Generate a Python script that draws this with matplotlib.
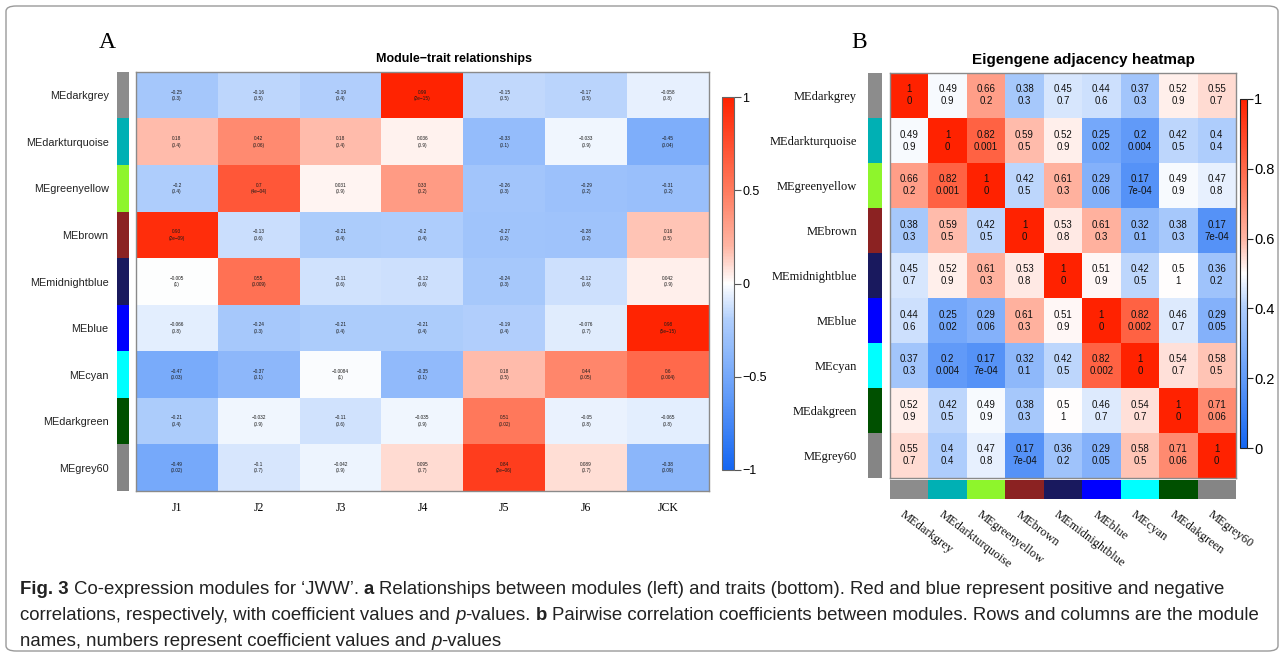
import numpy as np
import matplotlib
matplotlib.use('Agg')
import matplotlib.pyplot as plt
from matplotlib.colors import LinearSegmentedColormap, ListedColormap, Normalize
from matplotlib.cm import ScalarMappable
from matplotlib.patches import FancyBboxPatch

# ---------------- data ----------------
modules_A = ['MEdarkgrey', 'MEdarkturquoise', 'MEgreenyellow', 'MEbrown', 'MEmidnightblue',
             'MEblue', 'MEcyan', 'MEdarkgreen', 'MEgrey60']
module_colors = ['#8C8C8C', '#00B0B4', '#8EF52C', '#8B2222', '#19195E',
                 '#0000FF', '#00FFFF', '#005000', '#858585']
traits = ['J1', 'J2', 'J3', 'J4', 'J5', 'J6', 'JCK']

cor_A = np.array([
    [-0.25, -0.16, -0.19, 0.99, -0.15, -0.17, -0.058],
    [0.18, 0.42, 0.18, 0.036, -0.33, -0.033, -0.45],
    [-0.2, 0.7, 0.031, 0.33, -0.26, -0.29, -0.31],
    [0.93, -0.13, -0.21, -0.2, -0.27, -0.28, 0.16],
    [-0.005, 0.55, -0.11, -0.12, -0.24, -0.12, 0.042],
    [-0.066, -0.24, -0.21, -0.21, -0.19, -0.076, 0.98],
    [-0.47, -0.37, -0.0084, -0.35, 0.18, 0.44, 0.6],
    [-0.21, -0.032, -0.11, -0.035, 0.51, -0.05, -0.065],
    [-0.49, -0.1, -0.042, 0.095, 0.84, 0.089, -0.38],
])
p_A = np.array([
    [0.3, 0.5, 0.4, 2e-15, 0.5, 0.5, 0.8],
    [0.4, 0.06, 0.4, 0.9, 0.1, 0.9, 0.04],
    [0.4, 4e-04, 0.9, 0.2, 0.3, 0.2, 0.2],
    [2e-09, 0.6, 0.4, 0.4, 0.2, 0.2, 0.5],
    [1, 0.009, 0.6, 0.6, 0.3, 0.6, 0.9],
    [0.8, 0.3, 0.4, 0.4, 0.4, 0.7, 5e-15],
    [0.03, 0.1, 1, 0.1, 0.5, 0.05, 0.004],
    [0.4, 0.9, 0.6, 0.9, 0.02, 0.8, 0.8],
    [0.02, 0.7, 0.9, 0.7, 2e-06, 0.7, 0.09],
])

modules_B = ['MEdarkgrey', 'MEdarkturquoise', 'MEgreenyellow', 'MEbrown', 'MEmidnightblue',
             'MEblue', 'MEcyan', 'MEdakgreen', 'MEgrey60']
adj_B = np.array([
    [1, 0.49, 0.66, 0.38, 0.45, 0.44, 0.37, 0.52, 0.55],
    [0.49, 1, 0.82, 0.59, 0.52, 0.25, 0.2, 0.42, 0.4],
    [0.66, 0.82, 1, 0.42, 0.61, 0.29, 0.17, 0.49, 0.47],
    [0.38, 0.59, 0.42, 1, 0.53, 0.61, 0.32, 0.38, 0.17],
    [0.45, 0.52, 0.61, 0.53, 1, 0.51, 0.42, 0.5, 0.36],
    [0.44, 0.25, 0.29, 0.61, 0.51, 1, 0.82, 0.46, 0.29],
    [0.37, 0.2, 0.17, 0.32, 0.42, 0.82, 1, 0.54, 0.58],
    [0.52, 0.42, 0.49, 0.38, 0.5, 0.46, 0.54, 1, 0.71],
    [0.55, 0.4, 0.47, 0.17, 0.36, 0.29, 0.58, 0.71, 1],
])
p_B = np.array([
    [0, 0.9, 0.2, 0.3, 0.7, 0.6, 0.3, 0.9, 0.7],
    [0.9, 0, 0.001, 0.5, 0.9, 0.02, 0.004, 0.5, 0.4],
    [0.2, 0.001, 0, 0.5, 0.3, 0.06, 7e-04, 0.9, 0.8],
    [0.3, 0.5, 0.5, 0, 0.8, 0.3, 0.1, 0.3, 7e-04],
    [0.7, 0.9, 0.3, 0.8, 0, 0.9, 0.5, 1, 0.2],
    [0.6, 0.02, 0.06, 0.3, 0.9, 0, 0.002, 0.7, 0.05],
    [0.3, 0.004, 7e-04, 0.1, 0.5, 0.002, 0, 0.7, 0.5],
    [0.9, 0.5, 0.9, 0.3, 1, 0.7, 0.7, 0, 0.06],
    [0.7, 0.4, 0.8, 7e-04, 0.2, 0.05, 0.5, 0.06, 0],
])

# ---------------- helpers ----------------
W, H = 1284, 657
fig = plt.figure(figsize=(W / 100, H / 100), dpi=100)
fig.patch.set_facecolor('white')


def box(x0, y0, x1, y1):
    return [x0 / W, 1 - y1 / H, (x1 - x0) / W, (y1 - y0) / H]


def fx(x):
    return x / W


def fy(y):
    return 1 - y / H


def fmt_num(v):
    if v == 0:
        return '0'
    fixed = np.format_float_positional(v, trim='-')
    sci = np.format_float_scientific(v, trim='-', exp_digits=2)
    return fixed if len(fixed) <= len(sci) else sci


cmap = LinearSegmentedColormap.from_list('bwr_wgcna', [
    (0.0, '#1466F2'), (0.25, '#75A8FA'), (0.40, '#AECDFC'), (0.5, '#FFFFFF'),
    (0.60, '#FFB6A4'), (0.75, '#FF7B5E'), (1.0, '#FF2200')])

SANS = 'Liberation Sans'
SERIF = 'Liberation Serif'

# ---------------- outer frame ----------------
frame = FancyBboxPatch((fx(6), fy(651)), fx(1272), (645) / H,
                       boxstyle='round,pad=0,rounding_size=0.008',
                       transform=fig.transFigure, fill=False,
                       edgecolor='#9A9A9A', linewidth=1.0)
fig.patches.append(frame)

# ---------------- Panel A ----------------
fig.text(fx(107), fy(43), 'A', fontsize=17, family=SERIF, ha='center', va='center')
fig.text(fx(454), fy(59), 'Module\u2212trait relationships', fontsize=9,
         fontweight='bold', family=SANS, ha='center', va='center')

nrA, ncA = cor_A.shape
axA = fig.add_axes(box(136, 72, 709, 491))
axA.imshow(cor_A, cmap=cmap, vmin=-1, vmax=1, aspect='auto', interpolation='nearest')
for i in range(nrA):
    for j in range(ncA):
        c = fmt_num(cor_A[i, j]).replace('-', '\u2212')
        p = fmt_num(p_A[i, j]).replace('-', '\u2212')
        axA.text(j, i, f"{c}\n({p})", ha='center', va='center', fontsize=3.4,
                 family=SANS, color='#1a1a1a', linespacing=1.35)
axA.set_xticks(range(ncA))
axA.set_xticklabels(traits, family=SERIF, fontsize=8.5)
axA.set_yticks([])
axA.tick_params(axis='x', length=0, pad=8)
for s in axA.spines.values():
    s.set_color('#8A8A8A')
    s.set_linewidth(1.0)

stripA = fig.add_axes(box(117, 72, 129, 491))
stripA.imshow(np.arange(nrA).reshape(-1, 1), cmap=ListedColormap(module_colors),
              aspect='auto', interpolation='nearest')
stripA.set_xticks([])
stripA.set_yticks(range(nrA))
stripA.set_yticklabels(modules_A, family=SANS, fontsize=7.8, color='#222222')
stripA.tick_params(axis='y', length=0, pad=6)
for s in stripA.spines.values():
    s.set_visible(False)

caxA = fig.add_axes(box(722, 97, 734, 470))
cbA = fig.colorbar(ScalarMappable(norm=Normalize(-1, 1), cmap=cmap), cax=caxA)
cbA.set_ticks([-1, -0.5, 0, 0.5, 1])
cbA.set_ticklabels(['\u22121', '\u22120.5', '0', '0.5', '1'])
caxA.tick_params(length=5, width=0.8, color='#555555', labelsize=9, pad=1)
for lab in caxA.get_yticklabels():
    lab.set_family(SANS)
cbA.outline.set_edgecolor('#666666')
cbA.outline.set_linewidth(0.8)

# ---------------- Panel B ----------------
fig.text(fx(859), fy(43), 'B', fontsize=17, family=SERIF, ha='center', va='center')
fig.text(fx(1083), fy(60), 'Eigengene adjacency heatmap', fontsize=11,
         fontweight='bold', family=SANS, ha='center', va='center')

nB = adj_B.shape[0]
axB = fig.add_axes(box(890, 73, 1236, 478))
axB.imshow(adj_B, cmap=cmap, vmin=0, vmax=1, aspect='auto', interpolation='nearest')
for i in range(nB):
    for j in range(nB):
        axB.text(j, i, f"{fmt_num(adj_B[i, j])}\n{fmt_num(p_B[i, j])}", ha='center',
                 va='center', fontsize=7, family=SANS, color='#111111', linespacing=1.25)
axB.set_xticks([])
axB.set_yticks([])
for s in axB.spines.values():
    s.set_color('#8A8A8A')
    s.set_linewidth(1.0)

stripBL = fig.add_axes(box(868, 73, 882, 478))
stripBL.imshow(np.arange(nB).reshape(-1, 1), cmap=ListedColormap(module_colors),
               aspect='auto', interpolation='nearest')
stripBL.set_xticks([])
stripBL.set_yticks(range(nB))
stripBL.set_yticklabels(modules_B, family=SERIF, fontsize=9, color='#111111')
stripBL.tick_params(axis='y', length=0, pad=8)
for s in stripBL.spines.values():
    s.set_visible(False)

stripBB = fig.add_axes(box(890, 480, 1236, 499))
stripBB.imshow(np.arange(nB).reshape(1, -1), cmap=ListedColormap(module_colors),
               aspect='auto', interpolation='nearest')
stripBB.set_yticks([])
stripBB.set_xticks([])
for s in stripBB.spines.values():
    s.set_visible(False)
for j, name in enumerate(modules_B):
    stripBB.text(j - 0.1, 1.0, name, transform=stripBB.transData, family=SERIF,
                 fontsize=9, rotation=-37, rotation_mode='anchor', ha='left', va='top',
                 color='#111111')

caxB = fig.add_axes(box(1240, 99, 1247, 448))
cbB = fig.colorbar(ScalarMappable(norm=Normalize(0, 1), cmap=cmap), cax=caxB)
cbB.set_ticks([0, 0.2, 0.4, 0.6, 0.8, 1])
cbB.set_ticklabels(['0', '0.2', '0.4', '0.6', '0.8', '1'])
caxB.tick_params(length=4, width=0.8, color='#222222', labelsize=10.5, pad=1)
for lab in caxB.get_yticklabels():
    lab.set_family(SANS)
cbB.outline.set_edgecolor('#222222')
cbB.outline.set_linewidth(0.8)

# ---------------- caption ----------------
CAP_FAMILY = ['Liberation Sans']
CAP_SIZE = 13.4
renderer = fig.canvas.get_renderer()


def text_width(s, **kw):
    t = fig.text(0, 0, s, fontsize=CAP_SIZE, family=CAP_FAMILY, **kw)
    w = t.get_window_extent(renderer).width
    t.remove()
    return w


space_w = text_width('a a') - text_width('aa')


def draw_runs(x, y, runs):
    for s, kw in runs:
        lead = len(s) - len(s.lstrip(' '))
        trail = len(s) - len(s.rstrip(' '))
        core = s.strip(' ')
        x += lead * space_w
        t = fig.text(x / W, fy(y), core, fontsize=CAP_SIZE, family=CAP_FAMILY,
                     va='center', ha='left', color='#222222', **kw)
        x += t.get_window_extent(renderer).width + trail * space_w


B_ = {'fontweight': 'bold'}
N_ = {}
I_ = {'fontstyle': 'italic'}
draw_runs(20, 589, [('Fig. 3', B_), (' Co-expression modules for \u2018JWW\u2019. ', N_), ('a', B_),
                    (' Relationships between modules (left) and traits (bottom). Red and blue represent positive and negative', N_)])
draw_runs(20, 615, [('correlations, respectively, with coefficient values and ', N_), ('p', I_),
                    ('-values. ', N_), ('b', B_),
                    (' Pairwise correlation coefficients between modules. Rows and columns are the module', N_)])
draw_runs(20, 641, [('names, numbers represent coefficient values and ', N_), ('p', I_), ('-values', N_)])

fig.savefig('out.png', dpi=100, facecolor='white')
